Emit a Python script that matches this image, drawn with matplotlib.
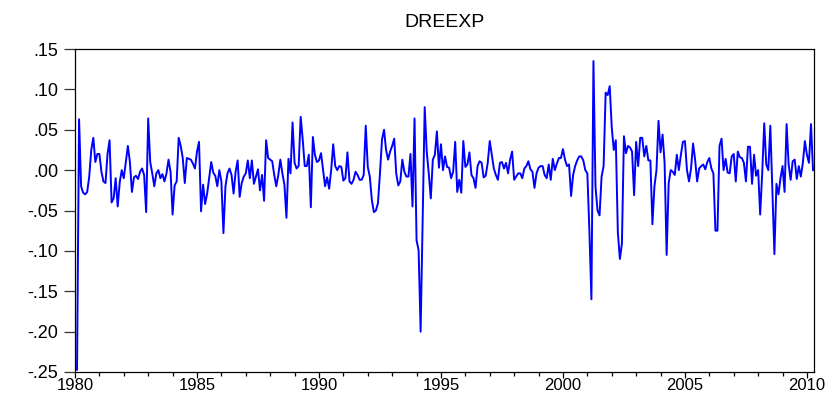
import numpy as np
import matplotlib
matplotlib.use("Agg")
import matplotlib.pyplot as plt
from matplotlib.ticker import FixedLocator, MultipleLocator

# monthly DREEXP, first observation 1980m2
start_year = 1980
start_month = 2

vals_1980s = [
    -0.247, 0.063, -0.020, -0.028, -0.030, -0.027, -0.008, 0.025, 0.040, 0.010,
    0.020, 0.020, -0.002, -0.014, -0.016, 0.020, 0.037, -0.040, -0.035, -0.010,
    -0.045, -0.015, 0.000, -0.010, 0.010, 0.030, 0.010, -0.027, -0.009, -0.007,
    -0.011, -0.002, 0.002, -0.006, -0.052, 0.064, 0.010, -0.004, -0.020, -0.004,
    0.000, -0.010, -0.005, -0.014, -0.004, 0.013, -0.002, -0.055, -0.019, -0.014,
    0.040, 0.030, 0.015, -0.016, 0.015, 0.014, 0.013, 0.008, 0.002, 0.023,
    0.035,
    -0.051, -0.018, -0.042, -0.029, -0.010, 0.010, -0.003, -0.007, -0.020, 0.000,
    -0.014, -0.078, -0.020, -0.004, 0.002, -0.006, -0.029, -0.002, 0.012, -0.033,
    -0.016, -0.008, -0.004, 0.012, -0.010, 0.012, -0.017, -0.008, 0.001, -0.025,
    -0.006, -0.038, 0.037, 0.015, 0.013, 0.011, -0.006, -0.020, -0.006, 0.013,
    -0.004, -0.018, -0.059, 0.014, -0.004, 0.059, 0.009, 0.002, 0.005, 0.066,
    0.038, 0.005, 0.005, 0.019, -0.046, 0.041, 0.019, 0.010,
]

vals_1990s = [
    0.012, 0.021, 0.001, -0.020, -0.009,
    -0.023, 0.000, 0.032, 0.005, 0.000, 0.005, 0.004, -0.013, -0.010, 0.022,
    -0.014, -0.017, -0.012, -0.002, -0.006, -0.012, -0.012, -0.006, 0.055, 0.004,
    -0.008, -0.037, -0.052, -0.050, -0.041, -0.004, 0.038, 0.050, 0.025, 0.013,
    0.023, 0.030, 0.039, -0.004, -0.019, -0.014, 0.013, -0.002, -0.008, -0.008,
    0.020, -0.045, 0.064, -0.087, -0.099, -0.200, -0.062, 0.078, 0.023, -0.004,
    -0.035, 0.013, 0.019, 0.048, 0.003, 0.032, 0.000, 0.017, 0.004, 0.003,
    -0.010, -0.002, 0.035, -0.027, -0.012, -0.028, 0.036, 0.004, 0.007, 0.022,
    -0.006, -0.010, -0.022, 0.005, 0.011, 0.009, -0.009, -0.007, 0.009, 0.036,
    0.019, 0.002, -0.006, -0.012, 0.009, 0.010, 0.002, 0.009, -0.004, 0.013,
    0.023, -0.012, -0.008, -0.004, -0.004, -0.010, 0.002, 0.005, 0.011, 0.001,
    -0.002, -0.022, -0.004, 0.003, 0.005, 0.005, -0.006, -0.010, 0.007, -0.012,
    0.014, 0.000, 0.008, 0.015, 0.015,
]

vals_2000s = [
    0.026, 0.013, 0.005, 0.007, -0.032, -0.006, 0.005, 0.012, 0.017, 0.017,
    0.012,
    0.000, -0.004, -0.075, -0.160, 0.135,
    -0.020, -0.050, -0.056, -0.008, 0.005, 0.096, 0.093, 0.104, 0.053, 0.025,
    0.037, -0.077, -0.110, -0.091, 0.042, 0.021, 0.030, 0.028, 0.023, -0.031,
    0.035, 0.005, 0.040, 0.040, 0.017, 0.030, 0.012, 0.012, -0.067, -0.020,
    0.000, 0.061, 0.022, 0.044, 0.009, -0.105, -0.016, 0.000, -0.002, -0.006,
    0.019, 0.000, 0.019, 0.035, 0.036, 0.000, -0.014, 0.002, 0.033, 0.013,
    -0.014, 0.002, 0.005, 0.007, 0.001, 0.010, 0.015, 0.002, -0.004, -0.075,
    -0.075, 0.030,
    0.039, 0.000, 0.014, -0.003, -0.004, 0.017, 0.020, -0.014, 0.023, 0.016,
    0.015, 0.009, -0.014, 0.029, 0.029, -0.017, 0.019, -0.007, 0.000, -0.055,
    -0.004, 0.058, 0.007, 0.000, 0.055, -0.025, -0.104, -0.017, -0.030, -0.010,
    0.005, -0.027, 0.057, 0.007, -0.012, 0.011, 0.013, -0.011, 0.005, -0.008,
    0.009, 0.036, 0.019, 0.009, 0.057, 0.000,
]

ytick_vals = [0.15, 0.10, 0.05, 0.00, -0.05, -0.10, -0.15, -0.20, -0.25]
ytick_labels = [".15", ".10", ".05", ".00", "-.05", "-.10", "-.15", "-.20", "-.25"]
xtick_years = [1980, 1985, 1990, 1995, 2000, 2005, 2010]

dreexp = np.array(vals_1980s + vals_1990s + vals_2000s)
t = start_year + (start_month - 1 + np.arange(len(dreexp))) / 12.0

plt.rcParams['font.family'] = ['Liberation Sans', 'DejaVu Sans']

fig = plt.figure(figsize=(8.36, 3.97), dpi=100)
ax = fig.add_axes([75 / 836, 1 - 372 / 397, (814 - 75) / 836, (372 - 49) / 397])

ax.plot(t, dreexp, color='#0000ff', lw=1.4)

ax.set_xlim(1980, 2010.29)
ax.set_ylim(-0.25, 0.15)

ax.yaxis.set_major_locator(FixedLocator(ytick_vals))
ax.set_yticklabels(ytick_labels, fontsize=13)
ax.xaxis.set_major_locator(FixedLocator(xtick_years))
ax.xaxis.set_minor_locator(MultipleLocator(1))
ax.set_xticklabels([str(y) for y in xtick_years], fontsize=12)

ax.tick_params(axis='y', direction='out', length=8, width=0.9, pad=4, colors='#333333', labelcolor='black')
ax.tick_params(axis='x', which='major', direction='out', length=4, width=0.9, pad=0.5)
ax.tick_params(axis='x', which='minor', direction='out', length=3, width=0.9)
ax.tick_params(right=False, top=False)

for s in ax.spines.values():
    s.set_linewidth(0.9)
    s.set_color('black')

ax.set_title("DREEXP", fontsize=14, pad=16)

fig.savefig("out.png", dpi=100)
